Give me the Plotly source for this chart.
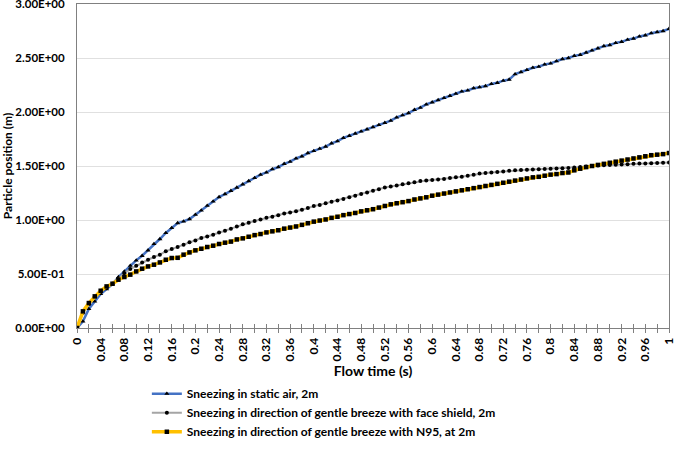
import plotly.graph_objects as go

flow_time = [round(i * 0.01, 2) for i in range(101)]

static_air = [0, 0.061, 0.176, 0.246, 0.315, 0.361, 0.407, 0.472, 0.524, 0.577,
              0.626, 0.669, 0.719, 0.778, 0.824, 0.880, 0.926, 0.972, 0.987, 1.009,
              1.049, 1.089, 1.132, 1.172, 1.213, 1.24, 1.27, 1.30, 1.33, 1.36,
              1.39, 1.42, 1.44, 1.47, 1.49, 1.52, 1.54, 1.57, 1.59, 1.62,
              1.64, 1.66, 1.68, 1.71, 1.73, 1.76, 1.78, 1.80, 1.82, 1.84,
              1.86, 1.88, 1.90, 1.92, 1.95, 1.97, 1.99, 2.02, 2.04, 2.07,
              2.09, 2.11, 2.13, 2.15, 2.17, 2.19, 2.20, 2.22, 2.23, 2.24,
              2.26, 2.27, 2.29, 2.30, 2.35, 2.37, 2.39, 2.41, 2.42, 2.44,
              2.45, 2.47, 2.49, 2.50, 2.52, 2.53, 2.55, 2.57, 2.59, 2.61,
              2.62, 2.64, 2.65, 2.67, 2.68, 2.70, 2.71, 2.73, 2.74, 2.75, 2.77]

face_shield = [0, 0.14, 0.22, 0.29, 0.34, 0.38, 0.41, 0.46, 0.506, 0.546,
               0.577, 0.607, 0.632, 0.657, 0.679, 0.710, 0.731, 0.750, 0.771, 0.793,
               0.811, 0.833, 0.848, 0.864, 0.885, 0.90, 0.92, 0.94, 0.96, 0.975,
               0.99, 1.005, 1.02, 1.03, 1.045, 1.06, 1.07, 1.08, 1.095, 1.11,
               1.13, 1.14, 1.155, 1.17, 1.18, 1.195, 1.21, 1.225, 1.24, 1.255,
               1.27, 1.285, 1.30, 1.31, 1.32, 1.33, 1.34, 1.35, 1.36, 1.365,
               1.37, 1.375, 1.38, 1.39, 1.395, 1.40, 1.41, 1.42, 1.43, 1.435,
               1.44, 1.445, 1.45, 1.455, 1.46, 1.462, 1.465, 1.468, 1.47, 1.473,
               1.475, 1.478, 1.48, 1.482, 1.485, 1.49, 1.495, 1.50, 1.505, 1.508,
               1.51, 1.512, 1.515, 1.517, 1.52, 1.522, 1.524, 1.526, 1.528, 1.53, 1.532]

n95 = [0, 0.154, 0.231, 0.293, 0.345, 0.385, 0.410, 0.447, 0.472, 0.494,
       0.524, 0.549, 0.570, 0.586, 0.607, 0.632, 0.648, 0.650, 0.679, 0.700,
       0.719, 0.734, 0.750, 0.762, 0.778, 0.79, 0.80, 0.82, 0.83, 0.845,
       0.86, 0.87, 0.885, 0.895, 0.905, 0.92, 0.93, 0.94, 0.955, 0.97,
       0.985, 0.995, 1.005, 1.02, 1.03, 1.045, 1.055, 1.065, 1.08, 1.09,
       1.10, 1.115, 1.13, 1.145, 1.155, 1.165, 1.175, 1.19, 1.20, 1.21,
       1.225, 1.235, 1.245, 1.255, 1.265, 1.275, 1.285, 1.295, 1.305, 1.315,
       1.325, 1.335, 1.345, 1.355, 1.365, 1.375, 1.385, 1.395, 1.40, 1.41,
       1.42, 1.425, 1.435, 1.44, 1.46, 1.475, 1.49, 1.50, 1.51, 1.52,
       1.53, 1.54, 1.55, 1.56, 1.57, 1.58, 1.59, 1.60, 1.605, 1.61, 1.62]

series_names = ["Sneezing in static air, 2m",
                "Sneezing in direction of gentle breeze with face shield, 2m",
                "Sneezing in direction of gentle breeze with N95, at 2m"]

x_tick_vals = [round(i * 0.04, 2) for i in range(26)]
x_tick_text = ["0", "0.04", "0.08", "0.12", "0.16", "0.2", "0.24", "0.28", "0.32", "0.36",
               "0.4", "0.44", "0.48", "0.52", "0.56", "0.6", "0.64", "0.68", "0.72", "0.76",
               "0.8", "0.84", "0.88", "0.92", "0.96", "1"]
y_tick_vals = [0, 0.5, 1.0, 1.5, 2.0, 2.5, 3.0]
y_tick_text = ["0.00E+00", "5.00E-01", "1.00E+00", "1.50E+00", "2.00E+00", "2.50E+00", "3.00E+00"]

FONT = "Lato"

fig = go.Figure()
fig.add_trace(go.Scatter(
    x=flow_time, y=static_air, name=series_names[0], mode="lines+markers",
    line=dict(color="#4472C4", width=2.5),
    marker=dict(symbol="triangle-up", size=4.5, color="#000000")))
fig.add_trace(go.Scatter(
    x=flow_time, y=face_shield, name=series_names[1], mode="lines+markers",
    line=dict(color="#A5A5A5", width=2),
    marker=dict(symbol="circle", size=4, color="#000000")))
fig.add_trace(go.Scatter(
    x=flow_time, y=n95, name=series_names[2], mode="lines+markers",
    line=dict(color="#FFC000", width=3.5),
    marker=dict(symbol="square", size=4.5, color="#000000")))

# trace on an overlay axis that carries the inside half of the crossing tick marks
fig.add_trace(go.Scatter(x=[0, 1], y=[0, 0], xaxis="x2", mode="lines",
                         line=dict(width=0), showlegend=False, hoverinfo="skip"))

fig.update_layout(
    width=676, height=457,
    margin=dict(l=77, r=7, t=4, b=129, autoexpand=False),
    paper_bgcolor="white", plot_bgcolor="white",
    font=dict(family=FONT, color="#000000"),
    showlegend=True,
    legend=dict(x=0.118, y=-0.158, xanchor="left", yanchor="top",
                orientation="v", font=dict(family=FONT, size=12, weight="bold"),
                tracegroupgap=0, itemwidth=30, bgcolor="rgba(0,0,0,0)"),
    xaxis=dict(range=[0, 1], tickvals=x_tick_vals, ticktext=x_tick_text,
               tickangle=-90, tickfont=dict(family=FONT, size=12, weight="bold"),
               ticks="outside", ticklen=4, tickcolor="#808080", tickwidth=1,
               minor=dict(dtick=0.02, ticks="outside", ticklen=4, tickcolor="#808080", tickwidth=1),
               showline=True, linecolor="#808080", linewidth=1, mirror=True,
               showgrid=False, zeroline=False, automargin=False,
               ticklabeloverflow="allow",
               title=dict(text="Flow time (s)", font=dict(family=FONT, size=14, weight="bold"), standoff=4)),
    xaxis2=dict(range=[0, 1], overlaying="x", anchor="y", side="bottom",
                tick0=0, dtick=0.02, ticks="inside", ticklen=4, tickcolor="#808080",
                showticklabels=False, showgrid=False, zeroline=False, showline=False,
                automargin=False),
    yaxis=dict(range=[0, 3], tickvals=y_tick_vals, ticktext=y_tick_text,
               tickfont=dict(family=FONT, size=11.5, weight="bold"),
               showline=True, linecolor="#808080", linewidth=1, mirror=True,
               showgrid=True, gridcolor="#E0E0E0", gridwidth=1, zeroline=False,
               ticks="", ticklabelstandoff=9, automargin=False,
               ticklabeloverflow="allow",
               title=dict(text="Particle position (m)", font=dict(family=FONT, size=12, weight="bold"), standoff=8)),
)

fig.write_html("out.html", config={"displayModeBar": False},
               post_script="document.body.style.margin='0';")
